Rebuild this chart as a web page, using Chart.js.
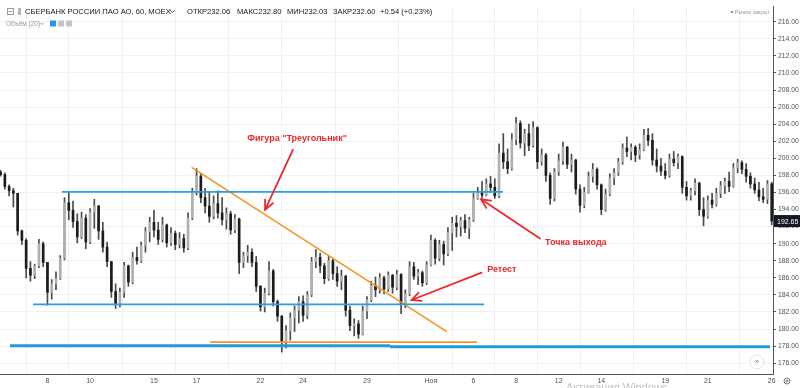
<!DOCTYPE html>
<html>
<head>
<meta charset="utf-8">
<script src="https://cdn.jsdelivr.net/npm/chart.js@4.4.0/dist/chart.umd.min.js"></script>
<style>
  html, body { margin: 0; padding: 0; background: #fff; overflow: hidden; }
  canvas { display: block; }
</style>
</head>
<body>
<canvas id="chart" width="800" height="388"></canvas>
<script>
// Свечи (часовки), слева направо
const opens = [198.4,198.1,196.7,196.2,195.9,191.5,190.4,187.1,186.3,187.4,190.0,187.8,184.3,185.3,185.9,188.3,194.8,193.9,192.6,190.8,
  193.0,190.2,193.7,194.4,191.5,189.6,187.9,184.4,183.0,184.3,187.4,185.5,188.4,188.0,189.8,191.4,192.5,191.6,190.5,192.2,
  190.1,191.2,189.9,190.6,189.5,193.0,196.0,197.9,195.4,194.4,193.2,194.7,193.6,192.8,193.5,191.6,192.9,187.8,188.6,189.0,
  187.8,185.0,182.6,184.2,186.8,183.2,181.5,178.6,179.8,181.3,182.2,183.2,181.6,184.0,187.9,188.4,187.4,185.9,188.0,186.5,
  185.6,186.2,182.2,180.4,180.6,179.4,182.1,183.4,185.1,184.6,186.0,184.7,186.3,184.9,186.4,183.0,184.1,187.3,186.2,186.6,
  185.4,187.5,190.4,188.3,189.9,188.8,191.3,192.4,192.0,192.7,191.8,192.8,195.3,196.1,195.7,197.0,196.6,195.6,200.6,199.6,
  198.8,202.2,204.1,201.8,202.9,201.5,203.6,199.6,200.4,198.0,195.3,198.4,199.7,201.3,199.3,199.8,196.4,194.5,196.0,197.9,
  198.7,196.9,194.0,195.8,197.7,198.3,199.6,201.2,200.8,201.3,200.4,201.0,202.7,202.1,199.8,199.1,198.5,198.0,199.9,199.5,
  200.2,196.6,195.6,196.2,197.1,194.0,193.2,195.1,194.6,195.9,196.8,197.3,196.7,198.9,199.5,198.7,197.9,197.0,196.3,195.5,
  195.2,197.0];
const highs = [198.6,198.3,196.9,196.5,195.9,191.6,190.6,187.9,187.6,190.5,190.2,187.8,185.8,186.7,188.6,195.4,196.1,195.0,193.5,193.7,
  193.4,194.1,195.2,194.5,192.5,190.2,187.9,185.3,184.8,187.8,187.5,189.0,189.6,190.2,191.9,193.1,193.9,192.5,193.1,192.3,
  191.9,191.5,191.3,191.1,193.6,196.5,198.8,198.2,196.5,196.1,195.6,196.2,195.4,194.2,193.8,193.4,193.0,189.0,189.8,189.4,
  188.5,185.1,184.8,187.9,187.0,183.4,181.6,180.4,181.9,182.7,183.8,183.9,184.4,188.4,189.3,188.9,187.7,188.5,188.2,187.3,
  186.9,186.3,182.7,181.2,181.0,182.7,183.8,185.6,186.1,186.5,186.2,186.7,186.4,186.9,186.5,184.6,187.9,187.8,187.0,186.8,
  187.9,191.0,190.6,190.4,190.3,191.9,193.1,193.3,193.1,193.4,193.1,195.9,196.6,197.3,197.6,197.9,197.6,201.7,202.9,201.1,
  202.9,204.8,204.4,203.4,204.0,204.3,203.7,201.1,200.6,198.3,198.8,200.5,201.9,201.4,200.5,199.9,196.9,196.6,198.4,199.4,
  198.9,197.0,196.4,198.2,198.8,200.0,201.7,202.5,201.7,201.5,201.7,203.4,203.5,202.9,201.1,200.0,199.4,200.5,200.8,200.5,
  200.3,197.3,196.5,197.6,197.2,195.4,195.6,195.9,196.5,197.3,197.7,198.4,199.4,199.9,199.7,199.4,198.3,197.7,197.2,196.5,
  197.4,197.2];
const lows = [197.9,196.4,195.6,194.3,191.0,189.9,186.0,185.6,185.9,187.2,187.3,182.8,183.5,184.6,185.8,188.1,192.8,191.9,190.1,190.6,
  189.4,190.0,191.8,190.5,189.0,187.3,183.7,182.4,182.6,183.7,185.0,185.3,187.6,187.8,189.0,190.2,190.8,189.9,190.2,189.6,
  189.8,189.3,189.5,189.0,189.3,192.8,195.7,194.8,193.6,192.5,192.9,193.0,192.2,191.7,191.1,191.3,186.5,187.2,187.8,187.3,
  184.4,182.1,182.0,184.0,182.7,180.9,177.3,177.8,178.7,179.7,180.7,180.9,181.2,183.8,187.2,186.6,185.3,185.7,185.8,185.0,
  184.6,181.5,179.8,179.2,178.9,179.3,181.2,183.2,183.8,184.2,184.1,184.4,184.2,184.6,181.8,182.5,183.9,185.8,185.2,185.0,
  185.2,187.4,187.6,188.0,187.5,188.6,189.2,190.8,190.9,191.3,190.6,192.6,195.2,195.3,195.6,196.0,195.3,195.4,198.8,198.2,
  198.6,201.6,201.2,200.3,200.9,201.3,198.8,199.2,197.3,194.6,195.0,198.0,199.3,198.8,198.4,195.8,193.7,194.2,195.9,197.2,
  196.4,193.4,193.8,195.6,196.9,198.0,199.3,200.2,199.8,199.6,199.9,200.9,201.5,199.2,198.4,198.0,197.6,197.8,199.1,198.8,
  195.9,195.1,195.1,195.7,193.3,192.1,193.0,194.2,194.4,195.4,195.9,196.1,196.6,198.3,198.2,197.2,196.5,195.9,195.0,194.8,
  194.7,192.2];
const closes = [198.1,196.7,196.2,195.9,191.5,190.4,187.1,186.3,187.4,190.0,187.8,184.3,185.3,185.9,188.3,194.8,193.9,192.6,190.8,193.0,
  190.2,193.7,194.4,191.5,189.6,187.9,184.4,183.0,184.3,187.4,185.5,188.4,188.0,189.8,191.4,192.5,191.6,190.5,192.2,190.1,
  191.2,189.9,190.6,189.5,193.0,196.0,197.9,195.4,194.4,193.2,194.7,193.6,192.8,193.5,191.6,192.9,187.8,188.6,189.0,187.8,
  185.0,182.6,184.2,186.8,183.2,181.5,178.6,179.8,181.3,182.2,183.2,181.6,184.0,187.9,188.4,187.4,185.9,188.0,186.5,185.6,
  186.2,182.2,180.4,180.6,179.4,182.1,183.4,185.1,184.6,186.0,184.7,186.3,184.9,186.4,183.0,184.1,187.3,186.2,186.6,185.4,
  187.5,190.4,188.3,189.9,188.8,191.3,192.4,192.0,192.7,191.8,192.8,195.3,196.1,195.7,197.0,196.6,195.6,200.6,199.6,198.8,
  202.2,204.1,201.8,202.9,201.5,203.6,199.6,200.4,198.0,195.3,198.4,199.7,201.3,199.3,199.8,196.4,194.5,196.0,197.9,198.7,
  196.9,194.0,195.8,197.7,198.3,199.6,201.2,200.8,201.3,200.4,201.0,202.7,202.1,199.8,199.1,198.5,198.0,199.9,199.5,200.2,
  196.6,195.6,196.2,197.1,194.0,193.2,195.1,194.6,195.9,196.8,197.3,196.7,198.9,199.5,198.7,197.9,197.0,196.3,195.5,195.2,
  197.0,192.65];

// Подписи оси времени (позиция = номер свечи)
const dayTickPos = [11, 21, 36, 46, 61, 71, 86, 101, 111, 121, 131, 141, 156, 166, 181];
const dayTickLabels = ['8', '10', '15', '17', '22', '24', '29', 'Ноя', '6', '8', '12', '14', '19', '21', '26'];

// Ценовая шкала
const priceTicks = [176,178,180,182,184,186,188,190,192,194,196,198,200,202,204,206,208,210,212,214,216];

// Нарисованные уровни и линии (свеча, цена)
const levelTop = [[14.4, 196.06], [117.9, 196.06]];
const levelMid = [[7.6, 182.88], [113.5, 182.88]];
const levelBottomA = [[2.2, 178.03], [91.4, 178.03]];
const levelBottomB = [[91.4, 177.92], [180.6, 177.92]];
const levelOrange = [[49.2, 178.46], [111.8, 178.46]];
const trendLine = [[44.85, 198.94], [104.72, 179.69]];

// Стрелки и подписи
const arrowTriangle = [[68.6, 201.0], [62.1, 194.0]];
const arrowExit = [[126.6, 190.6], [112.8, 195.2]];
const arrowRetest = [[112.9, 186.6], [96.5, 183.4]];
const noteTexts = ['Фигура "Треугольник"', 'Точка выхода', 'Ретест'];
const notePos = [[69.6, 202.3], [127.8, 190.1], [114.2, 186.95]];
const noteAlign = ['center', 'left', 'left'];

const FONT = '"Liberation Sans", Arial, sans-serif';
const RED = '#f0262b';

const wickData = highs.map((h, i) => ({ x: i, y: [lows[i], h] }));
const bodyData = opens.map((o, i) => ({ x: i, y: [o, closes[i]] }));
const bodyColors = opens.map((o, i) => closes[i] >= o ? '#b0b0b0' : '#1c1c1c');

const toPts = arr => arr.map(p => ({ x: p[0], y: p[1] }));
function lineSet(arr, color, width) {
    return {
        type: 'line', data: toPts(arr), borderColor: color, borderWidth: width,
        pointRadius: 0, fill: false, order: -1, tension: 0
    };
}

function drawArrow(ctx, x1, y1, x2, y2) {
    ctx.beginPath();
    ctx.moveTo(x1, y1);
    ctx.lineTo(x2, y2);
    ctx.stroke();
    const a = Math.atan2(y2 - y1, x2 - x1), L = 10, s = 0.45;
    ctx.beginPath();
    ctx.moveTo(x2 - L * Math.cos(a - s), y2 - L * Math.sin(a - s));
    ctx.lineTo(x2, y2);
    ctx.lineTo(x2 - L * Math.cos(a + s), y2 - L * Math.sin(a + s));
    ctx.stroke();
}

const overlay = {
    id: 'overlay',
    afterDraw(chart) {
        const ctx = chart.ctx;
        const xs = chart.scales.x, ys = chart.scales.y;
        const px = v => xs.getPixelForValue(v), py = v => ys.getPixelForValue(v);
        ctx.save();

        // стрелки
        ctx.strokeStyle = RED;
        ctx.lineWidth = 1.8;
        ctx.lineCap = 'round';
        [arrowTriangle, arrowExit, arrowRetest].forEach(a => {
            drawArrow(ctx, px(a[0][0]), py(a[0][1]), px(a[1][0]), py(a[1][1]));
        });

        // подписи
        ctx.fillStyle = RED;
        ctx.font = 'bold 9px ' + FONT;
        ctx.textBaseline = 'middle';
        noteTexts.forEach((t, i) => {
            ctx.textAlign = noteAlign[i];
            ctx.fillText(t, px(notePos[i][0]), py(notePos[i][1]));
        });

        // метка последней цены
        const last = closes[closes.length - 1];
        const ly = py(last);
        ctx.fillStyle = '#131722';
        ctx.fillRect(774, ly - 6, 26, 12);
        ctx.fillStyle = '#fff';
        ctx.font = '7px ' + FONT;
        ctx.textAlign = 'left';
        ctx.fillText(last.toFixed(2), 777, ly + 0.5);

        // заголовок
        ctx.strokeStyle = '#9a9da6';
        ctx.lineWidth = 1;
        ctx.strokeRect(7.5, 8.5, 6, 6);
        ctx.beginPath(); ctx.moveTo(9, 11.5); ctx.lineTo(12, 11.5); ctx.stroke();
        ctx.fillStyle = '#b2b5be';
        ctx.fillRect(18, 8, 3, 7);
        ctx.fillStyle = '#131722';
        ctx.font = '7.6px ' + FONT;
        ctx.textAlign = 'left';
        ctx.fillText('СБЕРБАНК РОССИИ ПАО АО, 60, MOEX', 25, 12);
        ctx.strokeStyle = '#555';
        ctx.beginPath(); ctx.moveTo(170.5, 10.5); ctx.lineTo(172.5, 12.5); ctx.lineTo(174.5, 10.5); ctx.stroke();
        ctx.fillText('ОТКР232.06', 187, 12);
        ctx.fillText('МАКС232.80', 237, 12);
        ctx.fillText('МИН232.03', 287, 12);
        ctx.fillText('ЗАКР232.60', 333, 12);
        ctx.fillText('+0.54 (+0.23%)', 380, 12);

        ctx.fillStyle = '#9598a1';
        ctx.font = '6.5px ' + FONT;
        ctx.fillText('Объём (20)', 6, 24);
        ctx.strokeStyle = '#9598a1';
        ctx.beginPath(); ctx.moveTo(40.5, 23); ctx.lineTo(42, 24.5); ctx.lineTo(43.5, 23); ctx.stroke();
        ctx.fillStyle = '#2196f3';
        ctx.fillRect(50, 20.5, 6, 6);
        ctx.fillStyle = '#c1c4cc';
        ctx.fillRect(58, 20.5, 6, 6);
        ctx.fillRect(66, 20.5, 6, 6);

        ctx.fillStyle = '#9598a1';
        ctx.font = '5.5px ' + FONT;
        ctx.textAlign = 'right';
        ctx.fillText('Рынок закрыт', 770, 12);
        ctx.beginPath(); ctx.arc(732, 12, 1.3, 0, Math.PI * 2); ctx.fill();

        // кнопки внизу
        ctx.fillStyle = '#fff';
        ctx.strokeStyle = '#e0e3eb';
        ctx.beginPath(); ctx.arc(757, 362, 7, 0, Math.PI * 2); ctx.fill(); ctx.stroke();
        ctx.fillStyle = '#787b86';
        ctx.font = '8px ' + FONT;
        ctx.textAlign = 'center';
        ctx.fillText('»', 757, 362);
        ctx.strokeStyle = '#787b86';
        ctx.beginPath(); ctx.arc(787, 381, 3, 0, Math.PI * 2); ctx.stroke();
        ctx.beginPath(); ctx.arc(787, 381, 1, 0, Math.PI * 2); ctx.stroke();

        ctx.fillStyle = 'rgba(140,140,140,0.55)';
        ctx.font = '11px ' + FONT;
        ctx.textAlign = 'left';
        ctx.fillText('Активация Windows', 566, 388);
        ctx.restore();
    }
};

new Chart(document.getElementById('chart'), {
    type: 'bar',
    data: {
        datasets: [
            lineSet(levelTop, '#2a9fe0', 1.8),
            lineSet(levelMid, '#2a9fe0', 1.8),
            lineSet(levelBottomA, '#1e9ae0', 3),
            lineSet(levelBottomB, '#1e9ae0', 3),
            lineSet(levelOrange, '#f7931e', 1.6),
            lineSet(trendLine, '#f7931e', 1.6),
            {
                data: bodyData, backgroundColor: bodyColors, barThickness: 2,
                grouped: false, borderSkipped: false, minBarLength: 1, order: 0
            },
            {
                data: wickData, backgroundColor: '#4a4a4a', barThickness: 1,
                grouped: false, borderSkipped: false, order: 1
            }
        ]
    },
    options: {
        responsive: false,
        animation: false,
        events: [],
        layout: { padding: 0 },
        plugins: { legend: { display: false }, tooltip: { enabled: false } },
        scales: {
            x: {
                type: 'linear', min: -0.14, max: 181.3, offset: false,
                afterBuildTicks: s => { s.ticks = dayTickPos.map(v => ({ value: v })); },
                afterFit: s => { s.height = 14; },
                grid: { color: '#eef1f6', drawTicks: false },
                border: { color: '#50535e' },
                ticks: {
                    autoSkip: false, maxRotation: 0, padding: 3,
                    color: '#4c525e', font: { size: 7, family: FONT },
                    callback: (v, i) => dayTickLabels[i]
                }
            },
            y: {
                position: 'right', min: 174.73, max: 217.84,
                afterBuildTicks: s => { s.ticks = priceTicks.map(v => ({ value: v })); },
                afterFit: s => { s.width = 27; },
                grid: { color: '#eef1f6', tickLength: 3, tickColor: '#50535e' },
                border: { color: '#50535e' },
                ticks: {
                    padding: 2, color: '#4c525e', font: { size: 6.8, family: FONT },
                    callback: v => v.toFixed(2)
                }
            }
        }
    },
    plugins: [overlay]
});
</script>
</body>
</html>
